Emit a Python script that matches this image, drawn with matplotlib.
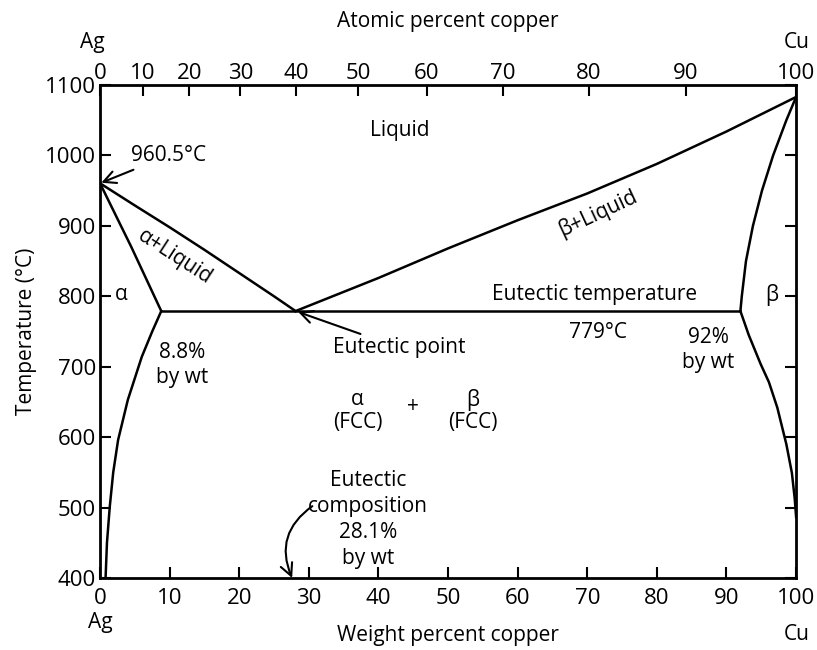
import matplotlib.pyplot as plt

plt.rcParams['font.family'] = ['Open Sans', 'DejaVu Sans']

# Ag-Cu phase diagram boundaries (weight % Cu, temperature in C)
liq_left_wt = [0, 5, 10, 15, 20, 25, 28.1]
liq_left_t = [960.5, 929, 898, 866, 833, 800, 779]

liq_right_wt = [28.1, 40, 50, 60, 70, 80, 90, 100]
liq_right_t = [779, 826, 868, 908, 946, 988, 1034, 1083]

sol_left_wt = [0, 4.5, 8.8]
sol_left_t = [960.5, 870, 779]

solvus_left_wt = [8.8, 7.5, 6.0, 4.0, 2.6, 1.9, 1.4, 1.0, 0.8]
solvus_left_t = [779, 750, 714, 653, 596, 550, 501, 450, 400]

sol_right_wt = [100, 98.6, 96.7, 95.1, 93.8, 92.8, 92.2, 92]
sol_right_t = [1083, 1050, 1000, 950, 900, 850, 800, 779]

solvus_right_wt = [92, 93.2, 94.9, 96.1, 97.3, 98.6, 99.4, 99.8, 100]
solvus_right_t = [779, 745, 704, 678, 642, 590, 549, 513, 487]

eutectic_wt = [8.8, 92]
eutectic_t = [779, 779]

wt_ticks = [0, 10, 20, 30, 40, 50, 60, 70, 80, 90, 100]
at_ticks = [0, 10, 20, 30, 40, 50, 60, 70, 80, 90, 100]
t_ticks = [400, 500, 600, 700, 800, 900, 1000, 1100]

M_CU, M_AG = 63.55, 107.87


def wt2at(w):
    a = w / M_CU
    b = (100 - w) / M_AG
    return 100 * a / (a + b)


def at2wt(a):
    c = a * M_CU
    d = (100 - a) * M_AG
    return 100 * c / (c + d)


fig = plt.figure(figsize=(8.17, 6.5), dpi=100)
ax = fig.add_axes([0.1224, 0.1108, 0.852, 0.7584])

lw = 1.8
for xs, ys in [(liq_left_wt, liq_left_t), (liq_right_wt, liq_right_t),
               (sol_left_wt, sol_left_t), (solvus_left_wt, solvus_left_t),
               (sol_right_wt, sol_right_t), (solvus_right_wt, solvus_right_t),
               (eutectic_wt, eutectic_t)]:
    ax.plot(xs, ys, color='black', lw=lw)

ax.set_xlim(0, 100)
ax.set_ylim(400, 1100)
for s in ax.spines.values():
    s.set_linewidth(2)

tfs = 16
fs = 15
ax.set_xticks(wt_ticks)
ax.set_yticks(t_ticks)
ax.tick_params(axis='both', direction='in', length=8, width=1.5, labelsize=tfs,
               right=True)
ax.tick_params(axis='x', pad=7)
ax.tick_params(axis='y', pad=3)

sec = ax.secondary_xaxis('top', functions=(wt2at, at2wt))
sec.set_xticks(at_ticks)
sec.tick_params(direction='in', length=8, width=1.5, labelsize=tfs, pad=1)
sec.set_xlabel('Atomic percent copper', fontsize=fs, labelpad=26)

ax.set_xlabel('Weight percent copper', fontsize=fs, labelpad=12)
ax.set_ylabel('Temperature (°C)', fontsize=fs, labelpad=6)

# end labels
fig.text(0.113, 0.935, 'Ag', fontsize=fs, ha='center', va='center')
fig.text(0.975, 0.935, 'Cu', fontsize=fs, ha='center', va='center')
fig.text(0.123, 0.042, 'Ag', fontsize=fs, ha='center', va='center')
fig.text(0.975, 0.024, 'Cu', fontsize=fs, ha='center', va='center')

ax.text(43, 1036, 'Liquid', fontsize=fs, ha='center', va='center')
ax.text(10.8, 856, 'α+Liquid', fontsize=fs, ha='center', va='center', rotation=-33)
ax.text(71.5, 918, 'β+Liquid', fontsize=fs, ha='center', va='center', rotation=25)
ax.text(3.1, 803, 'α', fontsize=fs, ha='center', va='center')
ax.text(96.5, 802, 'β', fontsize=fs, ha='center', va='center')
ax.text(71, 802, 'Eutectic temperature', fontsize=fs, ha='center', va='center')
ax.text(71.6, 749, '779°C', fontsize=fs, ha='center', va='center')
ax.text(87.4, 724, '92%\nby wt', fontsize=fs, ha='center', va='center', linespacing=1.25)
ax.text(11.8, 702, '8.8%\nby wt', fontsize=fs, ha='center', va='center', linespacing=1.25)
ax.text(37, 637, 'α\n(FCC)', fontsize=fs, ha='center', va='center', linespacing=1.1)
ax.text(45, 643, '+', fontsize=fs, ha='center', va='center')
ax.text(53.5, 637, 'β\n(FCC)', fontsize=fs, ha='center', va='center', linespacing=1.1)
ax.text(38.5, 483, 'Eutectic\ncomposition\n28.1%\nby wt', fontsize=fs, ha='center',
        va='center', linespacing=1.3)

arrow = dict(arrowstyle='->', color='black', lw=1.5, mutation_scale=22)
ax.annotate('960.5°C', xy=(0, 960.5), xytext=(4.5, 1000), fontsize=fs,
            va='center', ha='left', arrowprops=dict(arrow, shrinkA=2, shrinkB=1))
ax.annotate('Eutectic point', xy=(28.1, 779), xytext=(33.5, 727), fontsize=fs,
            va='center', ha='left', arrowprops=dict(arrow, shrinkA=1, shrinkB=2))
ax.annotate('', xy=(27.6, 400), xytext=(30.5, 502),
            arrowprops=dict(arrow, connectionstyle='arc3,rad=0.4', shrinkA=0, shrinkB=0))

fig.savefig('out.png', dpi=100)
